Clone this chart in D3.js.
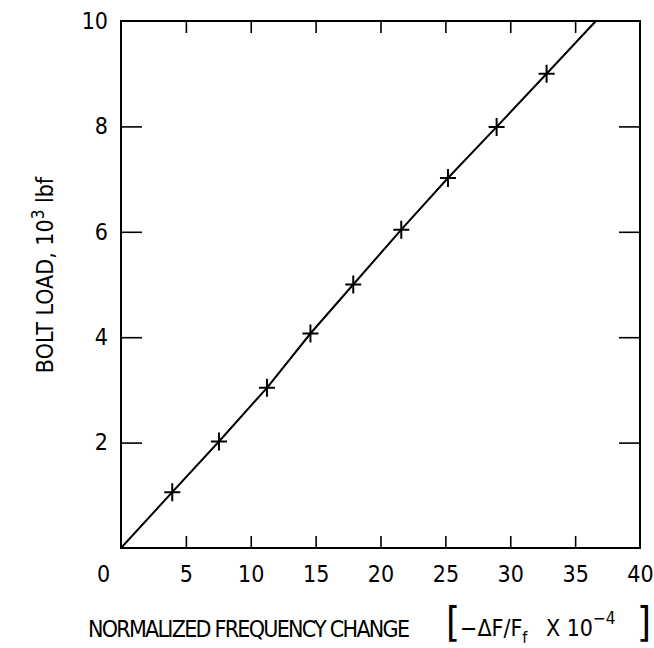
<!DOCTYPE html>
<html>
<head>
<meta charset="utf-8">
<script src="https://cdn.jsdelivr.net/npm/d3@7"></script>
<style>
  body { margin: 0; background: #fff; }
  text { font-family: "Liberation Sans Narrow", "DejaVu Sans Condensed", "Roboto Condensed", sans-serif; fill: #000; }
</style>
</head>
<body>
<div class="container"></div>
<script>
// measured points: normalized frequency change vs bolt load (10^3 lbf)
const freqChange = [3.95, 7.55, 11.25, 14.6, 17.9, 21.6, 25.2, 28.95, 32.8];
const boltLoad = [1.06, 2.02, 3.04, 4.07, 5.0, 6.04, 7.02, 7.99, 9.0];
// calibration line, drawn from the origin through the points up to the top of the frame
const fitX = [0, 3.95, 7.55, 11.25, 14.6, 17.9, 21.6, 25.2, 28.95, 32.8, 36.6];
const fitY = [0, 1.06, 2.02, 3.04, 4.07, 5.0, 6.04, 7.02, 7.99, 9.0, 10];
const xTicks = [0, 5, 10, 15, 20, 25, 30, 35, 40];
const yTicks = [2, 4, 6, 8, 10];

const width = 654, height = 648;
const margin = { top: 21, right: 14, bottom: 100, left: 121 };

const svg = d3.select(".container").append("svg")
    .attr("width", width)
    .attr("height", height)
    .attr("viewBox", [0, 0, width, height]);

const x = d3.scaleLinear()
    .domain([0, 40])
    .range([margin.left, width - margin.right]);

const y = d3.scaleLinear()
    .domain([0, 10])
    .range([height - margin.bottom, margin.top]);

// bottom axis with inward ticks
const gx = svg.append("g")
    .attr("transform", `translate(0,${y(0)})`)
    .call(d3.axisBottom(x).tickValues(xTicks).tickSizeInner(-12).tickSizeOuter(0));
gx.select(".domain").remove();
gx.selectAll(".tick line").attr("stroke-width", 1.6);
gx.selectAll(".tick text")
    .attr("y", 34).attr("dy", 0)
    .attr("dx", d => d === 0 ? -18 : 0)
    .style("font-size", "23px");
gx.selectAll(".tick").filter(d => d === 0 || d === 40).select("line").remove();

// top mirror ticks
const gxTop = svg.append("g")
    .attr("transform", `translate(0,${y(10)})`)
    .call(d3.axisTop(x).tickValues(xTicks.filter(d => d > 0 && d < 40)).tickSizeInner(-12).tickSizeOuter(0).tickFormat(""));
gxTop.select(".domain").remove();
gxTop.selectAll(".tick line").attr("stroke-width", 1.6);

// left axis
const gy = svg.append("g")
    .attr("transform", `translate(${x(0)},0)`)
    .call(d3.axisLeft(y).tickValues(yTicks).tickSizeInner(-21).tickSizeOuter(0).tickPadding(13));
gy.select(".domain").remove();
gy.selectAll(".tick line").attr("stroke-width", 1.6);
gy.selectAll(".tick").filter(d => d === 10).select("line").remove();
gy.selectAll(".tick text").style("font-size", "23px");

// right mirror ticks
const gyRight = svg.append("g")
    .attr("transform", `translate(${x(40)},0)`)
    .call(d3.axisRight(y).tickValues(yTicks.filter(d => d < 10)).tickSizeInner(-21).tickSizeOuter(0).tickFormat(""));
gyRight.select(".domain").remove();
gyRight.selectAll(".tick line").attr("stroke-width", 1.6);

// frame
svg.append("rect")
    .attr("x", x(0)).attr("y", y(10))
    .attr("width", x(40) - x(0)).attr("height", y(0) - y(10))
    .attr("fill", "none").attr("stroke", "#000").attr("stroke-width", 2);

// calibration line
const fit = fitX.map((d, i) => [d, fitY[i]]);
svg.append("path")
    .datum(fit)
    .attr("fill", "none")
    .attr("stroke", "#000")
    .attr("stroke-width", 2)
    .attr("d", d3.line().x(d => x(d[0])).y(d => y(d[1])));

// plus markers
const pts = freqChange.map((d, i) => [d, boltLoad[i]]);
svg.append("g")
    .attr("stroke", "#000")
    .attr("stroke-width", 2)
    .selectAll("path")
    .data(pts)
    .join("path")
    .attr("d", d => {
        const cx = x(d[0]), cy = y(d[1]);
        return `M${cx - 8},${cy}H${cx + 8}M${cx},${cy - 9}V${cy + 9}`;
    });

// y axis title
const yTitle = svg.append("text")
    .attr("transform", `translate(53,275) rotate(-90)`)
    .attr("text-anchor", "middle")
    .style("font-size", "23px");
yTitle.append("tspan").text("BOLT LOAD, 10");
yTitle.append("tspan").attr("dy", -9).style("font-size", "17px").text("3");
yTitle.append("tspan").attr("dy", 9).text(" lbf");

// x axis title
svg.append("text")
    .attr("x", 88).attr("y", 637)
    .style("font-size", "23px")
    .attr("textLength", 322)
    .attr("lengthAdjust", "spacing")
    .text("NORMALIZED FREQUENCY CHANGE");

const xUnit = svg.append("text")
    .attr("x", 446).attr("y", 636)
    .style("font-size", "23px");
xUnit.append("tspan").style("font-size", "40px").text("[");
xUnit.append("tspan").text("\u2212\u0394F/F");
xUnit.append("tspan").attr("dy", 7).style("font-size", "16px").text("f");
xUnit.append("tspan").attr("dy", -7).attr("dx", 12).text(" X 10");
xUnit.append("tspan").attr("dy", -12).style("font-size", "17px").text("\u22124");
xUnit.append("tspan").attr("dy", 12).attr("dx", 10).style("font-size", "40px").text(" ]");
</script>
</body>
</html>
